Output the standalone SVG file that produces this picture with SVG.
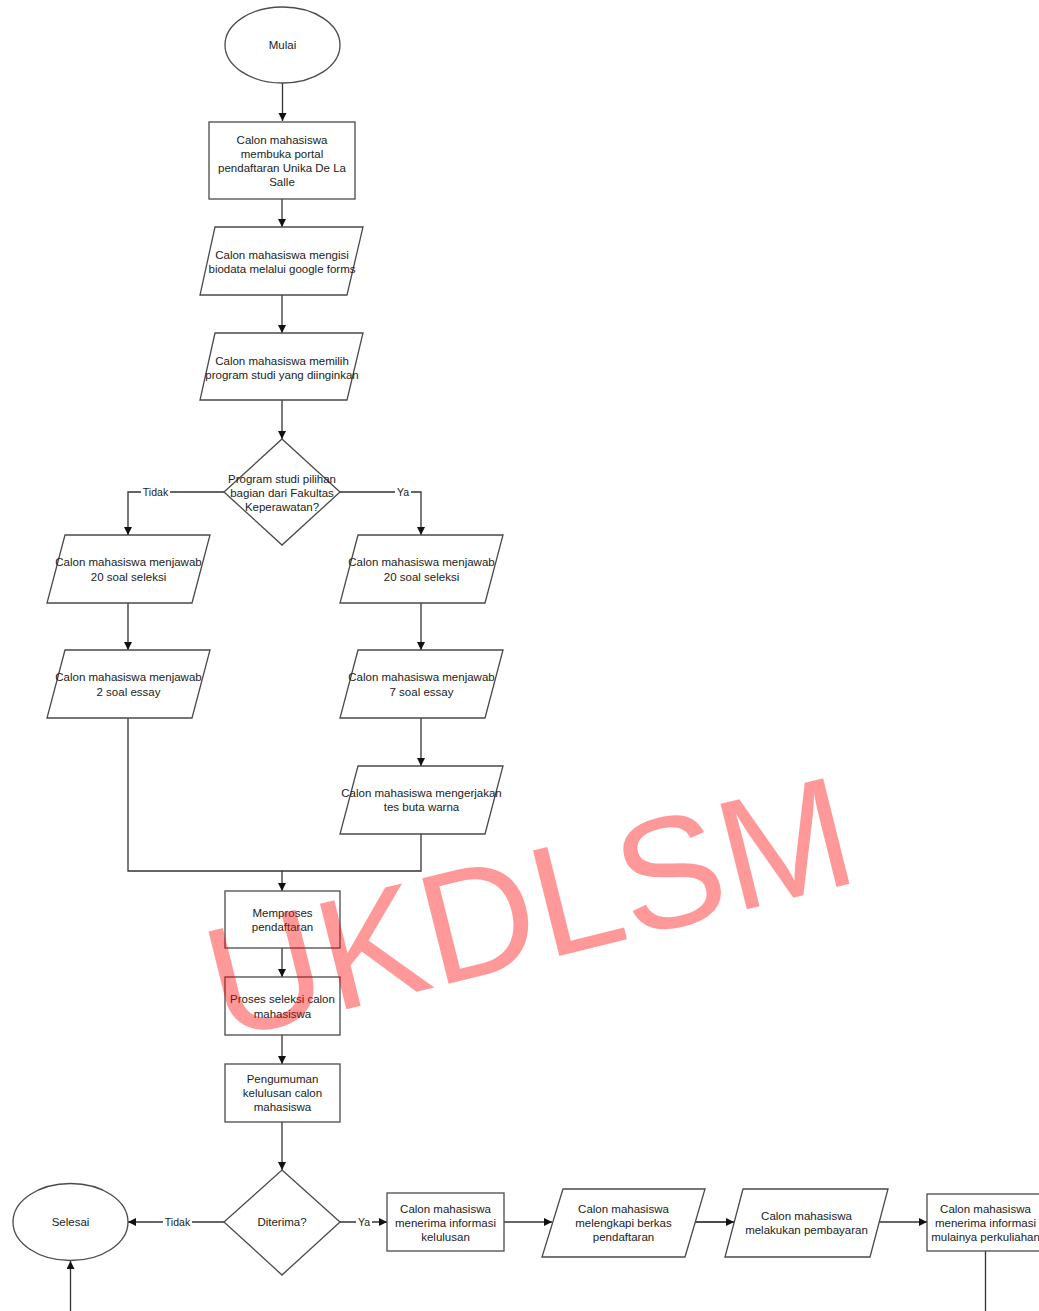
<svg xmlns="http://www.w3.org/2000/svg" width="1039" height="1311" viewBox="0 0 1039 1311">
<style>
.s{fill:#fff;stroke:#4a4a4a;stroke-width:1.3}
.t{font-family:"Liberation Sans",Arial,sans-serif;font-size:11.5px;fill:#222;text-anchor:middle}
.e{fill:none;stroke:#333;stroke-width:1.3}
.l{font-family:"Liberation Sans",Arial,sans-serif;font-size:10.5px;fill:#222;text-anchor:middle}
.lb{fill:#fff}
</style>
<defs>
<marker id="a" markerUnits="userSpaceOnUse" markerWidth="9" markerHeight="9" refX="8" refY="4" orient="auto">
<path d="M0,0 L8,4 L0,8 z" fill="#111"/>
</marker>
</defs>
<rect width="1039" height="1311" fill="#fff"/>
<g id="connectors">
<path class="e" d="M282.5,83 V121" marker-end="url(#a)"/>
<path class="e" d="M282,199 V227" marker-end="url(#a)"/>
<path class="e" d="M282,295 V333" marker-end="url(#a)"/>
<path class="e" d="M282,400 V439" marker-end="url(#a)"/>
<path class="e" d="M224,492 H128 V535" marker-end="url(#a)"/>
<path class="e" d="M340,492 H421 V535" marker-end="url(#a)"/>
<path class="e" d="M128,603 V650" marker-end="url(#a)"/>
<path class="e" d="M421,603 V650" marker-end="url(#a)"/>
<path class="e" d="M421,718 V766" marker-end="url(#a)"/>
<path class="e" d="M128,718 V871 H282 V891" marker-end="url(#a)"/>
<path class="e" d="M421,834 V871 H282"/>
<path class="e" d="M282,948 V977" marker-end="url(#a)"/>
<path class="e" d="M282,1035 V1064" marker-end="url(#a)"/>
<path class="e" d="M282,1122 V1170" marker-end="url(#a)"/>
<path class="e" d="M224,1222 H128" marker-end="url(#a)"/>
<path class="e" d="M340,1222 H387" marker-end="url(#a)"/>
<path class="e" d="M504,1222 H552" marker-end="url(#a)"/>
<path class="e" d="M695,1222 H734" marker-end="url(#a)" style="stroke:#111;stroke-width:1.6"/>
<path class="e" d="M879,1222 H927" marker-end="url(#a)"/>
<path class="e" d="M985.5,1251 V1335 H70.5 V1261" marker-end="url(#a)"/>
<rect class="lb" x="141" y="485" width="29" height="13"/>
<text class="l" x="155.5" y="495.5">Tidak</text>
<rect class="lb" x="395" y="485" width="16" height="13"/>
<text class="l" x="403" y="495.5">Ya</text>
<rect class="lb" x="163" y="1215" width="29" height="13"/>
<text class="l" x="177.5" y="1225.5">Tidak</text>
<rect class="lb" x="356" y="1215" width="16" height="13"/>
<text class="l" x="364" y="1225.5">Ya</text>
</g>
<g id="mulai">
<ellipse class="s" cx="282.5" cy="45" rx="57.5" ry="38"/>
<text class="t" x="282.5" y="49">Mulai</text>
</g>
<g id="buka-portal">
<rect class="s" x="209" y="122" width="146" height="77"/>
<text class="t" x="282" y="144">Calon mahasiswa</text>
<text class="t" x="282" y="158">membuka portal</text>
<text class="t" x="282" y="172">pendaftaran Unika De La</text>
<text class="t" x="282" y="186">Salle</text>
</g>
<g id="isi-biodata">
<polygon class="s" points="215,227 363,227 347,295 200,295"/>
<text class="t" x="282" y="259">Calon mahasiswa mengisi</text>
<text class="t" x="282" y="273">biodata melalui google forms</text>
</g>
<g id="pilih-prodi">
<polygon class="s" points="215,333 363,333 347,400 200,400"/>
<text class="t" x="282" y="365">Calon mahasiswa memilih</text>
<text class="t" x="282" y="379">program studi yang diinginkan</text>
</g>
<g id="cek-fakultas">
<polygon class="s" points="282,439 340,492 282,545 224,492"/>
<text class="t" x="282" y="483">Program studi pilihan</text>
<text class="t" x="282" y="497">bagian dari Fakultas</text>
<text class="t" x="282" y="511">Keperawatan?</text>
</g>
<g id="tidak-seleksi">
<polygon class="s" points="65,535 210,535 192,603 47,603"/>
<text class="t" x="128.5" y="566">Calon mahasiswa menjawab</text>
<text class="t" x="128.5" y="581">20 soal seleksi</text>
</g>
<g id="tidak-essay">
<polygon class="s" points="65,650 210,650 192,718 47,718"/>
<text class="t" x="128.5" y="681">Calon mahasiswa menjawab</text>
<text class="t" x="128.5" y="696">2 soal essay</text>
</g>
<g id="ya-seleksi">
<polygon class="s" points="358,535 503,535 485,603 340,603"/>
<text class="t" x="421.5" y="566">Calon mahasiswa menjawab</text>
<text class="t" x="421.5" y="581">20 soal seleksi</text>
</g>
<g id="ya-essay">
<polygon class="s" points="358,650 503,650 485,718 340,718"/>
<text class="t" x="421.5" y="681">Calon mahasiswa menjawab</text>
<text class="t" x="421.5" y="696">7 soal essay</text>
</g>
<g id="ya-buta-warna">
<polygon class="s" points="358,766 503,766 485,834 340,834"/>
<text class="t" x="421.5" y="797">Calon mahasiswa mengerjakan</text>
<text class="t" x="421.5" y="811">tes buta warna</text>
</g>
<g id="memproses">
<rect class="s" x="225" y="891" width="115" height="57"/>
<text class="t" x="282.5" y="917">Memproses</text>
<text class="t" x="282.5" y="931">pendaftaran</text>
</g>
<g id="seleksi">
<rect class="s" x="225" y="977" width="115" height="58"/>
<text class="t" x="282.5" y="1003">Proses seleksi calon</text>
<text class="t" x="282.5" y="1018">mahasiswa</text>
</g>
<g id="pengumuman">
<rect class="s" x="225" y="1064" width="115" height="58"/>
<text class="t" x="282.5" y="1083">Pengumuman</text>
<text class="t" x="282.5" y="1097">kelulusan calon</text>
<text class="t" x="282.5" y="1111">mahasiswa</text>
</g>
<g id="diterima">
<polygon class="s" points="282,1170 340,1222 282,1275 224,1222"/>
<text class="t" x="282" y="1226">Diterima?</text>
</g>
<g id="selesai">
<ellipse class="s" cx="70.5" cy="1222" rx="57.5" ry="38.5"/>
<text class="t" x="70.5" y="1226">Selesai</text>
</g>
<g id="info-kelulusan">
<rect class="s" x="387" y="1193" width="117" height="58"/>
<text class="t" x="445.5" y="1213">Calon mahasiswa</text>
<text class="t" x="445.5" y="1227">menerima informasi</text>
<text class="t" x="445.5" y="1241">kelulusan</text>
</g>
<g id="berkas">
<polygon class="s" points="563,1189 705,1189 685,1257 542,1257"/>
<text class="t" x="623.5" y="1213">Calon mahasiswa</text>
<text class="t" x="623.5" y="1227">melengkapi berkas</text>
<text class="t" x="623.5" y="1241">pendaftaran</text>
</g>
<g id="pembayaran">
<polygon class="s" points="743,1189 888,1189 870,1257 725,1257"/>
<text class="t" x="806.5" y="1220">Calon mahasiswa</text>
<text class="t" x="806.5" y="1234">melakukan pembayaran</text>
</g>
<g id="info-kuliah">
<rect class="s" x="927" y="1194" width="117" height="57"/>
<text class="t" x="985.5" y="1213">Calon mahasiswa</text>
<text class="t" x="985.5" y="1227">menerima informasi</text>
<text class="t" x="985.5" y="1241">mulainya perkuliahan</text>
</g>
<text x="223" y="1040" transform="rotate(-14 223 1040)" font-family="Liberation Sans, Arial, sans-serif" font-size="158" fill="#ff0000" fill-opacity="0.4">UKDLSM</text>
</svg>
